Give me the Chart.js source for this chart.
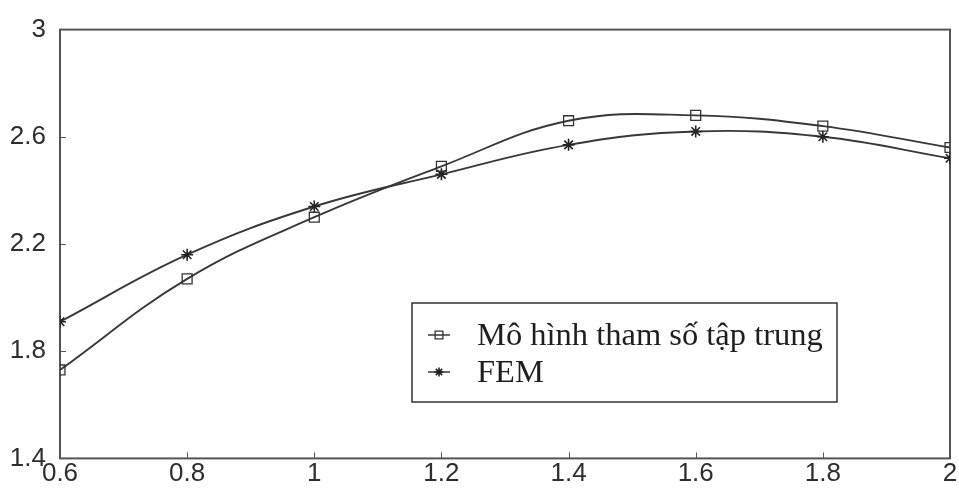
<!DOCTYPE html>
<html>
<head>
<meta charset="utf-8">
<script src="https://cdn.jsdelivr.net/npm/chart.js@4/dist/chart.umd.min.js"></script>
<style>
  html, body { margin: 0; padding: 0; background: #fff; }
  #wrap { width: 959px; height: 488px; }
</style>
</head>
<body>
<div id="wrap"><canvas id="c" width="959" height="488"></canvas></div>
<script>
// Data
const xValues = [0.6, 0.8, 1.0, 1.2, 1.4, 1.6, 1.8, 2.0];
const lumpedModel = [1.73, 2.07, 2.30, 2.49, 2.66, 2.68, 2.64, 2.56];
const femValues = [1.91, 2.16, 2.34, 2.46, 2.57, 2.62, 2.60, 2.52];
const xTicks = [0.6, 0.8, 1, 1.2, 1.4, 1.6, 1.8, 2];
const yTicks = [1.4, 1.8, 2.2, 2.6, 3];
const seriesNames = ['Mô hình tham số tập trung', 'FEM'];

const toPoints = ys => xValues.map((x, i) => ({ x: x, y: ys[i] }));
const LINE = '#383838';
const AXIS = '#555';
const TICK_FONT = { family: '"Liberation Sans", Arial, sans-serif', size: 26 };

// Box frame plus short inward tick marks on left and bottom axes
const framePlugin = {
  id: 'frame',
  beforeDatasetsDraw(chart) {
    const { ctx, chartArea: a, scales } = chart;
    ctx.save();
    ctx.strokeStyle = AXIS;
    ctx.lineWidth = 2;
    ctx.strokeRect(a.left, a.top, a.right - a.left, a.bottom - a.top);
    ctx.lineWidth = 1;
    ctx.beginPath();
    yTicks.slice(1, -1).forEach(v => {
      const y = Math.round(scales.y.getPixelForValue(v)) + 0.5;
      ctx.moveTo(a.left, y); ctx.lineTo(a.left + 6, y);
    });
    xTicks.slice(1, -1).forEach(v => {
      const x = Math.round(scales.x.getPixelForValue(v)) + 0.5;
      ctx.moveTo(x, a.bottom); ctx.lineTo(x, a.bottom - 6);
    });
    ctx.stroke();
    ctx.restore();
  }
};

// Boxed legend inside the plot area
const boxLegend = {
  id: 'boxLegend',
  afterDraw(chart) {
    const { ctx } = chart;
    const box = { x: 412, y: 303, w: 425, h: 99 };
    ctx.save();
    ctx.fillStyle = '#fff';
    ctx.fillRect(box.x, box.y, box.w, box.h);
    ctx.strokeStyle = '#333';
    ctx.lineWidth = 1.5;
    ctx.strokeRect(box.x, box.y, box.w, box.h);
    chart.data.datasets.forEach((ds, i) => {
      const y = box.y + 32 + i * 37;
      ctx.strokeStyle = ds.borderColor;
      ctx.lineWidth = 1.5;
      ctx.beginPath();
      ctx.moveTo(box.x + 16, y); ctx.lineTo(box.x + 38, y);
      ctx.stroke();
      ctx.fillStyle = 'rgba(0,0,0,0)';
      ctx.strokeStyle = ds.pointBorderColor;
      ctx.lineWidth = ds.pointBorderWidth;
      Chart.helpers.drawPoint(ctx, {
        pointStyle: ds.pointStyle, radius: ds.pointRadius - 1.5,
        rotation: 0, borderWidth: ds.pointBorderWidth
      }, box.x + 27, y);
      ctx.fillStyle = '#1e1e1e';
      ctx.font = '32.5px "Liberation Serif", "Times New Roman", serif';
      ctx.textBaseline = 'middle';
      ctx.textAlign = 'left';
      ctx.fillText(ds.label, box.x + 65, y + 1);
    });
    ctx.restore();
  }
};

new Chart(document.getElementById('c'), {
  type: 'line',
  data: {
    datasets: [
      {
        label: seriesNames[0],
        data: toPoints(lumpedModel),
        borderColor: LINE, borderWidth: 1.9,
        pointStyle: 'rect', pointRadius: 7,
        pointBorderColor: '#333', pointBorderWidth: 1.3,
        pointBackgroundColor: 'rgba(255,255,255,0)',
        tension: 0.4, fill: false
      },
      {
        label: seriesNames[1],
        data: toPoints(femValues),
        borderColor: LINE, borderWidth: 1.9,
        pointStyle: 'star', pointRadius: 6,
        pointBorderColor: '#222', pointBorderWidth: 1.6,
        pointBackgroundColor: 'rgba(255,255,255,0)',
        tension: 0.4, fill: false
      }
    ]
  },
  options: {
    responsive: false,
    animation: false,
    devicePixelRatio: 1,
    layout: { padding: { top: 25, right: 9, left: 0, bottom: 0 } },
    plugins: { legend: { display: false }, tooltip: { enabled: false } },
    scales: {
      x: {
        type: 'linear', min: 0.6, max: 2,
        afterBuildTicks: s => { s.ticks = xTicks.map(v => ({ value: v })); },
        afterFit: s => { s.height = 28; },
        grid: { display: false, drawTicks: false },
        border: { display: false },
        ticks: {
          autoSkip: false, maxRotation: 0, padding: 0,
          color: '#2e2e2e',
          font: TICK_FONT,
          callback: v => String(v)
        }
      },
      y: {
        type: 'linear', min: 1.4, max: 3,
        afterBuildTicks: s => { s.ticks = yTicks.map(v => ({ value: v })); },
        afterFit: s => { s.width = 60; },
        grid: { display: false, drawTicks: false },
        border: { display: false },
        ticks: {
          padding: 14,
          color: '#2e2e2e',
          font: TICK_FONT,
          callback: v => String(v)
        }
      }
    }
  },
  plugins: [framePlugin, boxLegend]
});
</script>
</body>
</html>
